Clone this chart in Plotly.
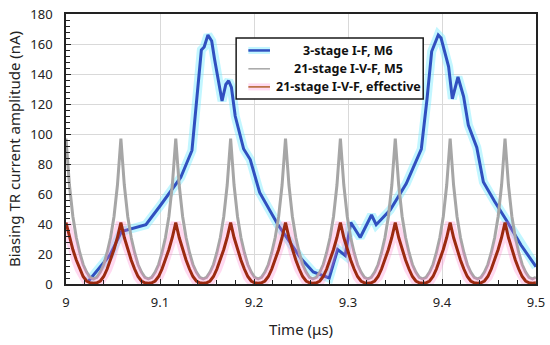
import plotly.graph_objects as go

# ---------------- data ----------------
# 3-stage I-F, M6 (time in us, current in nA)
blue_t = [9.024, 9.040, 9.047, 9.059, 9.085, 9.100, 9.122, 9.134, 9.144, 9.147,
          9.151, 9.155, 9.158, 9.166, 9.170, 9.173, 9.176, 9.180, 9.189, 9.196,
          9.206, 9.225, 9.250, 9.263, 9.280, 9.289, 9.297, 9.303, 9.313, 9.325,
          9.330, 9.345, 9.362, 9.378, 9.384, 9.389, 9.393, 9.396, 9.399, 9.407,
          9.411, 9.417, 9.423, 9.428, 9.437, 9.444, 9.456, 9.469, 9.484, 9.500]
blue_v = [2, 14, 19.5, 35, 39.5, 52, 71, 89, 156, 158,
          166, 162, 150, 122, 133, 135.5, 131, 112, 90, 83,
          61, 40, 17, 8, 4, 23, 19, 41, 31, 46,
          39.5, 49.5, 67, 90, 123, 155, 161, 166, 164, 145,
          123.5, 138, 125, 106, 91, 68, 55, 42, 26, 11.5]

# 21-stage sampling grid
ivf_t0 = 9.0
ivf_step = 0.0036488
# 21-stage I-V-F, M5
gray_v = [97, 66, 45, 31, 21, 13, 8, 4.5, 3.5, 4.5, 8, 13, 21, 31, 45, 66,
          97, 66, 45, 31, 21, 13, 8, 4.5, 3.5, 4.5, 8, 13, 21, 31, 45, 66,
          97, 66, 45, 31, 21, 13, 8, 4.5, 3.5, 4.5, 8, 13, 21, 31, 45, 66,
          97, 66, 45, 31, 21, 13, 8, 4.5, 3.5, 4.5, 8, 13, 21, 31, 45, 66,
          97, 66, 45, 31, 21, 13, 8, 4.5, 3.5, 4.5, 8, 13, 21, 31, 45, 66,
          97, 66, 45, 31, 21, 13, 8, 4.5, 3.5, 4.5, 8, 13, 21, 31, 45, 66,
          97, 66, 45, 31, 21, 13, 8, 4.5, 3.5, 4.5, 8, 13, 21, 31, 45, 66,
          97, 66, 45, 31, 21, 13, 8, 4.5, 3.5, 4.5, 8, 13, 21, 31, 45, 66,
          97, 66, 45, 31, 21, 13, 8, 4.5, 3.5, 4.5]
# 21-stage I-V-F, effective
red_v = [41, 31, 23, 16, 10, 5, 2, 0.8, 0.5, 0.8, 2, 5, 10, 16, 23, 31,
         41, 31, 23, 16, 10, 5, 2, 0.8, 0.5, 0.8, 2, 5, 10, 16, 23, 31,
         41, 31, 23, 16, 10, 5, 2, 0.8, 0.5, 0.8, 2, 5, 10, 16, 23, 31,
         41, 31, 23, 16, 10, 5, 2, 0.8, 0.5, 0.8, 2, 5, 10, 16, 23, 31,
         41, 31, 23, 16, 10, 5, 2, 0.8, 0.5, 0.8, 2, 5, 10, 16, 23, 31,
         41, 31, 23, 16, 10, 5, 2, 0.8, 0.5, 0.8, 2, 5, 10, 16, 23, 31,
         41, 31, 23, 16, 10, 5, 2, 0.8, 0.5, 0.8, 2, 5, 10, 16, 23, 31,
         41, 31, 23, 16, 10, 5, 2, 0.8, 0.5, 0.8, 2, 5, 10, 16, 23, 31,
         41, 31, 23, 16, 10, 5, 2, 0.8, 0.5, 0.8]
ivf_t = [round(ivf_t0 + i * ivf_step, 6) for i in range(len(gray_v))]

x_ticks = [9.0, 9.1, 9.2, 9.3, 9.4, 9.5]
x_ticklabels = ["9", "9.1", "9.2", "9.3", "9.4", "9.5"]
y_ticks = [0, 20, 40, 60, 80, 100, 120, 140, 160, 180]

legend_labels = ["3-stage I-F, M6", "21-stage I-V-F, M5", "21-stage I-V-F, effective"]

# ---------------- style ----------------
BLUE = "#3050C0"
BLUE_GLOW = "rgba(120,235,255,0.45)"
GRAY = "#A6A6A6"
RED = "#9C2A10"
RED_GLOW = "rgba(255,120,200,0.28)"
FONT = "Noto Sans"

fig = go.Figure()
fig.add_trace(go.Scatter(x=blue_t, y=blue_v, mode="lines",
                         line=dict(color=BLUE_GLOW, width=9), hoverinfo="skip", showlegend=False))
fig.add_trace(go.Scatter(x=blue_t, y=blue_v, mode="lines", name=legend_labels[0],
                         line=dict(color=BLUE, width=3), showlegend=False))
fig.add_trace(go.Scatter(x=ivf_t, y=gray_v, mode="lines", name=legend_labels[1],
                         line=dict(color=GRAY, width=3), showlegend=False))
fig.add_trace(go.Scatter(x=ivf_t, y=red_v, mode="lines",
                         line=dict(color=RED_GLOW, width=10), hoverinfo="skip", showlegend=False))
fig.add_trace(go.Scatter(x=ivf_t, y=red_v, mode="lines", name=legend_labels[2],
                         line=dict(color=RED, width=3), showlegend=False))

# ---------------- custom legend (paper coords) ----------------
lx0, lx1, ly0, ly1 = 0.362, 0.760, 0.685, 0.911
fig.add_shape(type="rect", xref="paper", yref="paper", x0=lx0, x1=lx1, y0=ly0, y1=ly1,
              line=dict(color="#1a1a1a", width=1.5), fillcolor="white", layer="above")
rows = [0.865, 0.797, 0.730]
samples = [(BLUE, BLUE_GLOW, 2.5), (GRAY, None, 1.5), ("#B0602A", RED_GLOW, 1.5)]
for (col, glow, w), yy, lab in zip(samples, rows, legend_labels):
    if glow:
        fig.add_shape(type="line", xref="paper", yref="paper", x0=0.388, x1=0.434, y0=yy, y1=yy,
                      line=dict(color=glow, width=7), layer="above")
    fig.add_shape(type="line", xref="paper", yref="paper", x0=0.388, x1=0.434, y0=yy, y1=yy,
                  line=dict(color=col, width=w), layer="above")
    fig.add_annotation(xref="paper", yref="paper", x=0.601, y=yy, text="<b>" + lab + "</b>",
                       showarrow=False, xanchor="center", yanchor="middle",
                       font=dict(family=FONT, size=12.5, color="#111"))

fig.update_layout(
    width=550, height=345, autosize=False,
    margin=dict(l=66, r=14, t=14, b=61),
    paper_bgcolor="white", plot_bgcolor="white",
    font=dict(family=FONT, color="#222", size=13),
    showlegend=False,
)
fig.update_xaxes(
    range=[9.0, 9.5], tickvals=x_ticks, ticktext=x_ticklabels, automargin=False,
    showgrid=True, gridcolor="#D9D9D9", gridwidth=1,
    showline=True, linecolor="#222", linewidth=1.5, mirror=True,
    ticks="inside", ticklen=5, tickcolor="#222", ticklabelstandoff=6,
    minor=dict(ticks="inside", dtick=0.02, tick0=9.0, ticklen=4, tickcolor="#222", showgrid=False),
    tickfont=dict(size=13, color="#222"),
    title=dict(text="Time (μs)", font=dict(size=15, color="#222"), standoff=14),
    zeroline=False,
)
fig.update_yaxes(
    range=[0, 180], tickvals=y_ticks, automargin=False,
    showgrid=True, gridcolor="#D9D9D9", gridwidth=1,
    showline=True, linecolor="#222", linewidth=1.5, mirror=True,
    ticks="inside", ticklen=5, tickcolor="#222", ticklabelstandoff=9,
    minor=dict(ticks="inside", dtick=4, tick0=0, ticklen=4, tickcolor="#222", showgrid=False),
    tickfont=dict(size=13, color="#222"),
    title=dict(text="Biasing TR current amplitude (nA)", font=dict(size=15, color="#222"), standoff=6),
    zeroline=False,
)

fig.write_html("out.html", config={"displayModeBar": False},
               post_script="document.body.style.margin='0';")
